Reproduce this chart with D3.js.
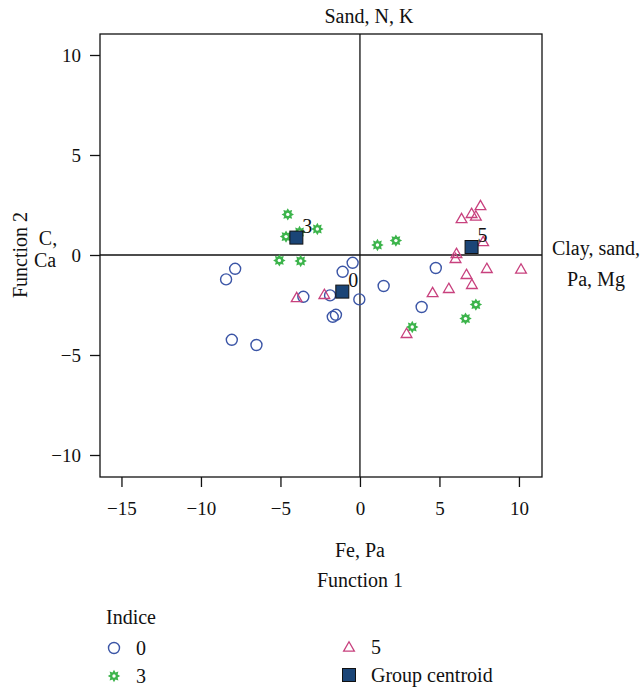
<!DOCTYPE html>
<html>
<head>
<meta charset="utf-8">
<script src="https://cdn.jsdelivr.net/npm/d3@7"></script>
<style>
  body { margin: 0; background: #fff; }
  text { font-family: "Liberation Serif", "DejaVu Serif", serif; fill: #111; }
</style>
</head>
<body>
<div id="chart"></div>
<script>
// group 0 scores (function 1, function 2)
const group0 = [
    [-7.85, -0.69], [-8.42, -1.22], [-8.06, -4.24], [-6.51, -4.5],
    [-3.56, -2.09], [-1.88, -2.02], [-1.09, -0.84], [-0.46, -0.39],
    [-0.04, -2.22], [-1.71, -3.09], [-1.51, -2.99], [1.49, -1.55],
    [4.77, -0.65], [3.88, -2.6]
];
// group 3 scores
const group3 = [
    [-4.54, 2.03], [-4.65, 0.92], [-3.8, 1.15], [-2.68, 1.3],
    [-5.07, -0.27], [-3.73, -0.3], [1.1, 0.5], [2.26, 0.72],
    [7.29, -2.48], [6.64, -3.18], [3.29, -3.6]
];
// group 5 scores
const group5 = [
    [-3.98, -2.13], [-2.24, -1.97], [7.58, 2.47], [7.02, 2.08],
    [7.29, 1.95], [6.39, 1.82], [7.75, 0.67], [6.07, 0.08],
    [6.01, -0.17], [7.98, -0.67], [10.13, -0.7], [6.7, -0.97],
    [7.04, -1.47], [5.59, -1.67], [4.57, -1.88], [2.93, -3.92]
];
// group centroids
const centroids = [
    {label: "0", x: -1.11, y: -1.83},
    {label: "3", x: -4.0, y: 0.87},
    {label: "5", x: 7.02, y: 0.4}
];
const xTicks = [-15, -10, -5, 0, 5, 10];
const yTicks = [-10, -5, 0, 5, 10];

const colBlue = "#3b55a6", colGreen = "#3cb44b", colPink = "#c8417e", colCent = "#1b4577";
const fs = 20;

const W = 642, H = 690;
const margin = {top: 34, right: 100, bottom: 213, left: 100};

const svg = d3.select("#chart").append("svg")
    .attr("width", W)
    .attr("height", H);

const x = d3.scaleLinear().domain([-16.35, 11.45]).range([margin.left, W - margin.right]);
const y = d3.scaleLinear().domain([-11.1, 11.05]).range([H - margin.bottom, margin.top]);

// frame
svg.append("rect")
    .attr("x", x.range()[0]).attr("y", y.range()[1])
    .attr("width", x.range()[1] - x.range()[0])
    .attr("height", y.range()[0] - y.range()[1])
    .attr("fill", "none").attr("stroke", "#111").attr("stroke-width", 1.3);

// axes
const xAxis = svg.append("g")
    .attr("transform", `translate(0, ${y.range()[0]})`)
    .call(d3.axisBottom(x).tickValues(xTicks).tickSize(10).tickPadding(15));
const yAxis = svg.append("g")
    .attr("transform", `translate(${x.range()[0]}, 0)`)
    .call(d3.axisLeft(y).tickValues(yTicks).tickSize(10).tickPadding(9));
[xAxis, yAxis].forEach(a => {
    a.select(".domain").remove();
    a.selectAll("line").attr("stroke", "#111").attr("stroke-width", 1.3);
    a.selectAll("text").attr("font-size", 19).attr("font-family", "Liberation Serif").attr("fill", "#111");
});

// zero lines
svg.append("line")
    .attr("x1", x(0)).attr("x2", x(0))
    .attr("y1", y.range()[0]).attr("y2", y.range()[1])
    .attr("stroke", "#111").attr("stroke-width", 1.3);
svg.append("line")
    .attr("x1", x.range()[0]).attr("x2", x.range()[1])
    .attr("y1", y(0)).attr("y2", y(0))
    .attr("stroke", "#111").attr("stroke-width", 1.3);

// star burst marker path
function starPath(ro, ri, n) {
    const pts = [];
    for (let i = 0; i < n * 2; i++) {
        const r = i % 2 === 0 ? ro : ri;
        const a = Math.PI * i / n - Math.PI / 2;
        pts.push([r * Math.cos(a), r * Math.sin(a)]);
    }
    return "M" + pts.map(p => p.join(",")).join("L") + "Z";
}
const triPath = d3.symbol().type(d3.symbolTriangle).size(50)();

function drawCircle(g, cx, cy) {
    g.append("circle").attr("cx", cx).attr("cy", cy).attr("r", 5.5)
        .attr("fill", "none").attr("stroke", colBlue).attr("stroke-width", 1.4);
}
function drawStar(g, cx, cy) {
    g.append("path").attr("d", starPath(6.2, 3.9, 8))
        .attr("transform", `translate(${cx},${cy})`)
        .attr("fill", colGreen);
    g.append("circle").attr("cx", cx).attr("cy", cy).attr("r", 1.7).attr("fill", "#fff");
}
function drawTri(g, cx, cy) {
    g.append("path").attr("d", triPath)
        .attr("transform", `translate(${cx},${cy + 1})`)
        .attr("fill", "none").attr("stroke", colPink).attr("stroke-width", 1.3);
}
function drawSquare(g, cx, cy) {
    g.append("rect").attr("x", cx - 6.5).attr("y", cy - 6.5)
        .attr("width", 13).attr("height", 13)
        .attr("fill", colCent).attr("stroke", "#111").attr("stroke-width", 1);
}

const pts = svg.append("g");
group0.forEach(d => drawCircle(pts, x(d[0]), y(d[1])));
group3.forEach(d => drawStar(pts, x(d[0]), y(d[1])));
group5.forEach(d => drawTri(pts, x(d[0]), y(d[1])));

// centroids and their labels
centroids.forEach(c => {
    drawSquare(pts, x(c.x), y(c.y));
    pts.append("text")
        .attr("x", x(c.x) + 6)
        .attr("y", y(c.y) - 5)
        .attr("font-size", fs)
        .text(c.label);
});

// direction labels
svg.append("text").attr("x", x(0) + 9).attr("y", 23).attr("text-anchor", "middle")
    .attr("font-size", fs).text("Sand, N, K");
svg.append("text").attr("x", 596).attr("y", 255).attr("text-anchor", "middle")
    .attr("font-size", fs).text("Clay, sand,");
svg.append("text").attr("x", 596).attr("y", 286).attr("text-anchor", "middle")
    .attr("font-size", fs).text("Pa, Mg");
svg.append("text").attr("x", 48).attr("y", 245).attr("text-anchor", "middle")
    .attr("font-size", fs).text("C,");
svg.append("text").attr("x", 45).attr("y", 267).attr("text-anchor", "middle")
    .attr("font-size", fs).text("Ca");
svg.append("text").attr("x", x(0)).attr("y", 557).attr("text-anchor", "middle")
    .attr("font-size", fs).text("Fe, Pa");

// axis titles
svg.append("text").attr("x", x(0)).attr("y", 587).attr("text-anchor", "middle")
    .attr("font-size", fs).text("Function 1");
svg.append("text")
    .attr("transform", `translate(27, ${y(0)}) rotate(-90)`)
    .attr("text-anchor", "middle")
    .attr("font-size", fs).text("Function 2");

// legend
const legend = svg.append("g");
legend.append("text").attr("x", 106).attr("y", 624).attr("font-size", fs).text("Indice");
const legendItems = [
    {label: "0", draw: drawCircle, lx: 114, ly: 648},
    {label: "3", draw: drawStar, lx: 114, ly: 676},
    {label: "5", draw: drawTri, lx: 349, ly: 647},
    {label: "Group centroid", draw: drawSquare, lx: 349, ly: 675}
];
legendItems.forEach(it => {
    it.draw(legend, it.lx, it.ly);
    legend.append("text").attr("x", it.lx + 22).attr("y", it.ly + 7)
        .attr("font-size", fs).text(it.label);
});
</script>
</body>
</html>
